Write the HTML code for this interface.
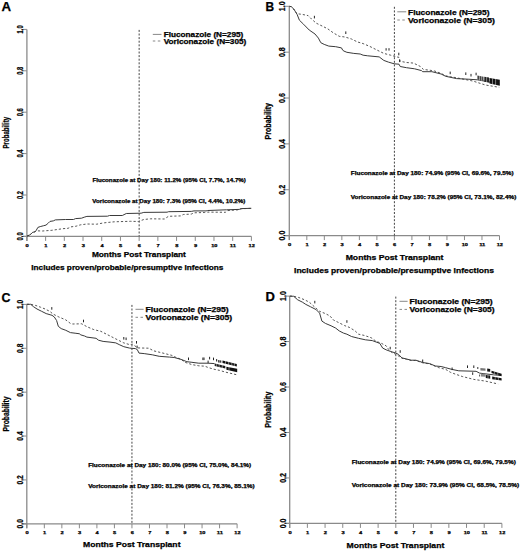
<!DOCTYPE html>
<html><head><meta charset="utf-8"><style>
html,body{margin:0;padding:0;background:#fff;}
svg{display:block;}
text{font-family:"Liberation Sans", sans-serif;font-weight:bold;fill:#000;stroke:#000;stroke-width:0.25;}
.ax{stroke:#8a8a8a;stroke-width:1.3;fill:none;}
.tk{stroke:#8a8a8a;stroke-width:1;fill:none;}
.vd{stroke:#444;stroke-width:1;stroke-dasharray:2 1.6;fill:none;}
.sol{stroke:#3a3a3a;stroke-width:1;fill:none;stroke-linejoin:round;}
.das{stroke:#555;stroke-width:1;stroke-dasharray:2.2 2;fill:none;}
.lg1{stroke:#888;stroke-width:1;}
.lg2{stroke:#888;stroke-width:1;stroke-dasharray:2.5 2.5;}
.cm{stroke:#222;stroke-width:1;}
.bl{fill:#111;stroke:#111;stroke-width:0.5;}
</style></head><body>
<svg width="520" height="551" viewBox="0 0 520 551">
<line class="ax" x1="26.9" y1="29.4" x2="26.9" y2="240.9"/>
<line class="ax" x1="22.9" y1="236.4" x2="251.4" y2="236.4"/>
<line class="tk" x1="26.90" y1="236.4" x2="26.90" y2="240.9"/>
<line class="tk" x1="45.61" y1="236.4" x2="45.61" y2="240.9"/>
<line class="tk" x1="64.32" y1="236.4" x2="64.32" y2="240.9"/>
<line class="tk" x1="83.03" y1="236.4" x2="83.03" y2="240.9"/>
<line class="tk" x1="101.73" y1="236.4" x2="101.73" y2="240.9"/>
<line class="tk" x1="120.44" y1="236.4" x2="120.44" y2="240.9"/>
<line class="tk" x1="139.15" y1="236.4" x2="139.15" y2="240.9"/>
<line class="tk" x1="157.86" y1="236.4" x2="157.86" y2="240.9"/>
<line class="tk" x1="176.57" y1="236.4" x2="176.57" y2="240.9"/>
<line class="tk" x1="195.28" y1="236.4" x2="195.28" y2="240.9"/>
<line class="tk" x1="213.98" y1="236.4" x2="213.98" y2="240.9"/>
<line class="tk" x1="232.69" y1="236.4" x2="232.69" y2="240.9"/>
<line class="tk" x1="251.40" y1="236.4" x2="251.40" y2="240.9"/>
<line class="tk" x1="22.9" y1="236.40" x2="26.9" y2="236.40"/>
<line class="tk" x1="22.9" y1="195.00" x2="26.9" y2="195.00"/>
<line class="tk" x1="22.9" y1="153.60" x2="26.9" y2="153.60"/>
<line class="tk" x1="22.9" y1="112.20" x2="26.9" y2="112.20"/>
<line class="tk" x1="22.9" y1="70.80" x2="26.9" y2="70.80"/>
<line class="tk" x1="22.9" y1="29.40" x2="26.9" y2="29.40"/>
<line class="vd" x1="139.15" y1="29.9" x2="139.15" y2="236.4"/>
<text x="27.20" y="246.80" font-size="4.4" text-anchor="middle" textLength="3.2" lengthAdjust="spacingAndGlyphs" stroke-width="0.45">0</text>
<text x="45.91" y="246.80" font-size="4.4" text-anchor="middle" textLength="3.2" lengthAdjust="spacingAndGlyphs" stroke-width="0.45">1</text>
<text x="64.62" y="246.80" font-size="4.4" text-anchor="middle" textLength="3.2" lengthAdjust="spacingAndGlyphs" stroke-width="0.45">2</text>
<text x="83.33" y="246.80" font-size="4.4" text-anchor="middle" textLength="3.2" lengthAdjust="spacingAndGlyphs" stroke-width="0.45">3</text>
<text x="102.03" y="246.80" font-size="4.4" text-anchor="middle" textLength="3.2" lengthAdjust="spacingAndGlyphs" stroke-width="0.45">4</text>
<text x="120.74" y="246.80" font-size="4.4" text-anchor="middle" textLength="3.2" lengthAdjust="spacingAndGlyphs" stroke-width="0.45">5</text>
<text x="139.45" y="246.80" font-size="4.4" text-anchor="middle" textLength="3.2" lengthAdjust="spacingAndGlyphs" stroke-width="0.45">6</text>
<text x="158.16" y="246.80" font-size="4.4" text-anchor="middle" textLength="3.2" lengthAdjust="spacingAndGlyphs" stroke-width="0.45">7</text>
<text x="176.87" y="246.80" font-size="4.4" text-anchor="middle" textLength="3.2" lengthAdjust="spacingAndGlyphs" stroke-width="0.45">8</text>
<text x="195.58" y="246.80" font-size="4.4" text-anchor="middle" textLength="3.2" lengthAdjust="spacingAndGlyphs" stroke-width="0.45">9</text>
<text x="214.28" y="246.80" font-size="4.4" text-anchor="middle" textLength="6.2" lengthAdjust="spacingAndGlyphs" stroke-width="0.45">10</text>
<text x="232.99" y="246.80" font-size="4.4" text-anchor="middle" textLength="6.2" lengthAdjust="spacingAndGlyphs" stroke-width="0.45">11</text>
<text x="251.70" y="246.80" font-size="4.4" text-anchor="middle" textLength="6.2" lengthAdjust="spacingAndGlyphs" stroke-width="0.45">12</text>
<text transform="translate(22.80,236.40) rotate(-90)" font-size="8.6" stroke-width="0.35" text-anchor="middle" textLength="8.0" lengthAdjust="spacingAndGlyphs">0.0</text>
<text transform="translate(22.80,195.00) rotate(-90)" font-size="8.6" stroke-width="0.35" text-anchor="middle" textLength="8.0" lengthAdjust="spacingAndGlyphs">0.2</text>
<text transform="translate(22.80,153.60) rotate(-90)" font-size="8.6" stroke-width="0.35" text-anchor="middle" textLength="8.0" lengthAdjust="spacingAndGlyphs">0.4</text>
<text transform="translate(22.80,112.20) rotate(-90)" font-size="8.6" stroke-width="0.35" text-anchor="middle" textLength="8.0" lengthAdjust="spacingAndGlyphs">0.6</text>
<text transform="translate(22.80,70.80) rotate(-90)" font-size="8.6" stroke-width="0.35" text-anchor="middle" textLength="8.0" lengthAdjust="spacingAndGlyphs">0.8</text>
<text transform="translate(22.80,29.40) rotate(-90)" font-size="8.6" stroke-width="0.35" text-anchor="middle" textLength="8.0" lengthAdjust="spacingAndGlyphs">1.0</text>
<line class="ax" x1="289.3" y1="6.3" x2="289.3" y2="240.1"/>
<line class="ax" x1="285.3" y1="235.6" x2="499.5" y2="235.6"/>
<line class="tk" x1="289.30" y1="235.6" x2="289.30" y2="240.1"/>
<line class="tk" x1="306.82" y1="235.6" x2="306.82" y2="240.1"/>
<line class="tk" x1="324.33" y1="235.6" x2="324.33" y2="240.1"/>
<line class="tk" x1="341.85" y1="235.6" x2="341.85" y2="240.1"/>
<line class="tk" x1="359.37" y1="235.6" x2="359.37" y2="240.1"/>
<line class="tk" x1="376.88" y1="235.6" x2="376.88" y2="240.1"/>
<line class="tk" x1="394.40" y1="235.6" x2="394.40" y2="240.1"/>
<line class="tk" x1="411.92" y1="235.6" x2="411.92" y2="240.1"/>
<line class="tk" x1="429.43" y1="235.6" x2="429.43" y2="240.1"/>
<line class="tk" x1="446.95" y1="235.6" x2="446.95" y2="240.1"/>
<line class="tk" x1="464.47" y1="235.6" x2="464.47" y2="240.1"/>
<line class="tk" x1="481.98" y1="235.6" x2="481.98" y2="240.1"/>
<line class="tk" x1="499.50" y1="235.6" x2="499.50" y2="240.1"/>
<line class="tk" x1="285.3" y1="235.60" x2="289.3" y2="235.60"/>
<line class="tk" x1="285.3" y1="189.74" x2="289.3" y2="189.74"/>
<line class="tk" x1="285.3" y1="143.88" x2="289.3" y2="143.88"/>
<line class="tk" x1="285.3" y1="98.02" x2="289.3" y2="98.02"/>
<line class="tk" x1="285.3" y1="52.16" x2="289.3" y2="52.16"/>
<line class="tk" x1="285.3" y1="6.30" x2="289.3" y2="6.30"/>
<line class="vd" x1="394.40" y1="6.8" x2="394.40" y2="235.6"/>
<text x="289.60" y="246.00" font-size="4.4" text-anchor="middle" textLength="3.2" lengthAdjust="spacingAndGlyphs" stroke-width="0.45">0</text>
<text x="307.12" y="246.00" font-size="4.4" text-anchor="middle" textLength="3.2" lengthAdjust="spacingAndGlyphs" stroke-width="0.45">1</text>
<text x="324.63" y="246.00" font-size="4.4" text-anchor="middle" textLength="3.2" lengthAdjust="spacingAndGlyphs" stroke-width="0.45">2</text>
<text x="342.15" y="246.00" font-size="4.4" text-anchor="middle" textLength="3.2" lengthAdjust="spacingAndGlyphs" stroke-width="0.45">3</text>
<text x="359.67" y="246.00" font-size="4.4" text-anchor="middle" textLength="3.2" lengthAdjust="spacingAndGlyphs" stroke-width="0.45">4</text>
<text x="377.18" y="246.00" font-size="4.4" text-anchor="middle" textLength="3.2" lengthAdjust="spacingAndGlyphs" stroke-width="0.45">5</text>
<text x="394.70" y="246.00" font-size="4.4" text-anchor="middle" textLength="3.2" lengthAdjust="spacingAndGlyphs" stroke-width="0.45">6</text>
<text x="412.22" y="246.00" font-size="4.4" text-anchor="middle" textLength="3.2" lengthAdjust="spacingAndGlyphs" stroke-width="0.45">7</text>
<text x="429.73" y="246.00" font-size="4.4" text-anchor="middle" textLength="3.2" lengthAdjust="spacingAndGlyphs" stroke-width="0.45">8</text>
<text x="447.25" y="246.00" font-size="4.4" text-anchor="middle" textLength="3.2" lengthAdjust="spacingAndGlyphs" stroke-width="0.45">9</text>
<text x="464.77" y="246.00" font-size="4.4" text-anchor="middle" textLength="6.2" lengthAdjust="spacingAndGlyphs" stroke-width="0.45">10</text>
<text x="482.28" y="246.00" font-size="4.4" text-anchor="middle" textLength="6.2" lengthAdjust="spacingAndGlyphs" stroke-width="0.45">11</text>
<text x="499.80" y="246.00" font-size="4.4" text-anchor="middle" textLength="6.2" lengthAdjust="spacingAndGlyphs" stroke-width="0.45">12</text>
<text transform="translate(285.20,235.60) rotate(-90)" font-size="8.6" stroke-width="0.35" text-anchor="middle" textLength="9.8" lengthAdjust="spacingAndGlyphs">0.0</text>
<text transform="translate(285.20,189.74) rotate(-90)" font-size="8.6" stroke-width="0.35" text-anchor="middle" textLength="9.8" lengthAdjust="spacingAndGlyphs">0.2</text>
<text transform="translate(285.20,143.88) rotate(-90)" font-size="8.6" stroke-width="0.35" text-anchor="middle" textLength="9.8" lengthAdjust="spacingAndGlyphs">0.4</text>
<text transform="translate(285.20,98.02) rotate(-90)" font-size="8.6" stroke-width="0.35" text-anchor="middle" textLength="9.8" lengthAdjust="spacingAndGlyphs">0.6</text>
<text transform="translate(285.20,52.16) rotate(-90)" font-size="8.6" stroke-width="0.35" text-anchor="middle" textLength="9.8" lengthAdjust="spacingAndGlyphs">0.8</text>
<text transform="translate(285.20,6.30) rotate(-90)" font-size="8.6" stroke-width="0.35" text-anchor="middle" textLength="9.8" lengthAdjust="spacingAndGlyphs">1.0</text>
<line class="ax" x1="26.8" y1="304.4" x2="26.8" y2="528.3"/>
<line class="ax" x1="22.8" y1="523.8" x2="237.1" y2="523.8"/>
<line class="tk" x1="26.80" y1="523.8" x2="26.80" y2="528.3"/>
<line class="tk" x1="44.33" y1="523.8" x2="44.33" y2="528.3"/>
<line class="tk" x1="61.85" y1="523.8" x2="61.85" y2="528.3"/>
<line class="tk" x1="79.38" y1="523.8" x2="79.38" y2="528.3"/>
<line class="tk" x1="96.90" y1="523.8" x2="96.90" y2="528.3"/>
<line class="tk" x1="114.42" y1="523.8" x2="114.42" y2="528.3"/>
<line class="tk" x1="131.95" y1="523.8" x2="131.95" y2="528.3"/>
<line class="tk" x1="149.47" y1="523.8" x2="149.47" y2="528.3"/>
<line class="tk" x1="167.00" y1="523.8" x2="167.00" y2="528.3"/>
<line class="tk" x1="184.53" y1="523.8" x2="184.53" y2="528.3"/>
<line class="tk" x1="202.05" y1="523.8" x2="202.05" y2="528.3"/>
<line class="tk" x1="219.57" y1="523.8" x2="219.57" y2="528.3"/>
<line class="tk" x1="237.10" y1="523.8" x2="237.10" y2="528.3"/>
<line class="tk" x1="22.8" y1="523.80" x2="26.8" y2="523.80"/>
<line class="tk" x1="22.8" y1="479.92" x2="26.8" y2="479.92"/>
<line class="tk" x1="22.8" y1="436.04" x2="26.8" y2="436.04"/>
<line class="tk" x1="22.8" y1="392.16" x2="26.8" y2="392.16"/>
<line class="tk" x1="22.8" y1="348.28" x2="26.8" y2="348.28"/>
<line class="tk" x1="22.8" y1="304.40" x2="26.8" y2="304.40"/>
<line class="vd" x1="131.95" y1="304.9" x2="131.95" y2="523.8"/>
<text x="27.10" y="534.20" font-size="4.4" text-anchor="middle" textLength="3.2" lengthAdjust="spacingAndGlyphs" stroke-width="0.45">0</text>
<text x="44.62" y="534.20" font-size="4.4" text-anchor="middle" textLength="3.2" lengthAdjust="spacingAndGlyphs" stroke-width="0.45">1</text>
<text x="62.15" y="534.20" font-size="4.4" text-anchor="middle" textLength="3.2" lengthAdjust="spacingAndGlyphs" stroke-width="0.45">2</text>
<text x="79.67" y="534.20" font-size="4.4" text-anchor="middle" textLength="3.2" lengthAdjust="spacingAndGlyphs" stroke-width="0.45">3</text>
<text x="97.20" y="534.20" font-size="4.4" text-anchor="middle" textLength="3.2" lengthAdjust="spacingAndGlyphs" stroke-width="0.45">4</text>
<text x="114.72" y="534.20" font-size="4.4" text-anchor="middle" textLength="3.2" lengthAdjust="spacingAndGlyphs" stroke-width="0.45">5</text>
<text x="132.25" y="534.20" font-size="4.4" text-anchor="middle" textLength="3.2" lengthAdjust="spacingAndGlyphs" stroke-width="0.45">6</text>
<text x="149.78" y="534.20" font-size="4.4" text-anchor="middle" textLength="3.2" lengthAdjust="spacingAndGlyphs" stroke-width="0.45">7</text>
<text x="167.30" y="534.20" font-size="4.4" text-anchor="middle" textLength="3.2" lengthAdjust="spacingAndGlyphs" stroke-width="0.45">8</text>
<text x="184.83" y="534.20" font-size="4.4" text-anchor="middle" textLength="3.2" lengthAdjust="spacingAndGlyphs" stroke-width="0.45">9</text>
<text x="202.35" y="534.20" font-size="4.4" text-anchor="middle" textLength="6.2" lengthAdjust="spacingAndGlyphs" stroke-width="0.45">10</text>
<text x="219.88" y="534.20" font-size="4.4" text-anchor="middle" textLength="6.2" lengthAdjust="spacingAndGlyphs" stroke-width="0.45">11</text>
<text x="237.40" y="534.20" font-size="4.4" text-anchor="middle" textLength="6.2" lengthAdjust="spacingAndGlyphs" stroke-width="0.45">12</text>
<text transform="translate(22.70,523.80) rotate(-90)" font-size="8.6" stroke-width="0.35" text-anchor="middle" textLength="9.3" lengthAdjust="spacingAndGlyphs">0.0</text>
<text transform="translate(22.70,479.92) rotate(-90)" font-size="8.6" stroke-width="0.35" text-anchor="middle" textLength="9.3" lengthAdjust="spacingAndGlyphs">0.2</text>
<text transform="translate(22.70,436.04) rotate(-90)" font-size="8.6" stroke-width="0.35" text-anchor="middle" textLength="9.3" lengthAdjust="spacingAndGlyphs">0.4</text>
<text transform="translate(22.70,392.16) rotate(-90)" font-size="8.6" stroke-width="0.35" text-anchor="middle" textLength="9.3" lengthAdjust="spacingAndGlyphs">0.6</text>
<text transform="translate(22.70,348.28) rotate(-90)" font-size="8.6" stroke-width="0.35" text-anchor="middle" textLength="9.3" lengthAdjust="spacingAndGlyphs">0.8</text>
<text transform="translate(22.70,304.40) rotate(-90)" font-size="8.6" stroke-width="0.35" text-anchor="middle" textLength="9.3" lengthAdjust="spacingAndGlyphs">1.0</text>
<line class="ax" x1="289.7" y1="296.1" x2="289.7" y2="527.9"/>
<line class="ax" x1="285.7" y1="523.4" x2="501.9" y2="523.4"/>
<line class="tk" x1="289.70" y1="523.4" x2="289.70" y2="527.9"/>
<line class="tk" x1="307.38" y1="523.4" x2="307.38" y2="527.9"/>
<line class="tk" x1="325.07" y1="523.4" x2="325.07" y2="527.9"/>
<line class="tk" x1="342.75" y1="523.4" x2="342.75" y2="527.9"/>
<line class="tk" x1="360.43" y1="523.4" x2="360.43" y2="527.9"/>
<line class="tk" x1="378.12" y1="523.4" x2="378.12" y2="527.9"/>
<line class="tk" x1="395.80" y1="523.4" x2="395.80" y2="527.9"/>
<line class="tk" x1="413.48" y1="523.4" x2="413.48" y2="527.9"/>
<line class="tk" x1="431.17" y1="523.4" x2="431.17" y2="527.9"/>
<line class="tk" x1="448.85" y1="523.4" x2="448.85" y2="527.9"/>
<line class="tk" x1="466.53" y1="523.4" x2="466.53" y2="527.9"/>
<line class="tk" x1="484.22" y1="523.4" x2="484.22" y2="527.9"/>
<line class="tk" x1="501.90" y1="523.4" x2="501.90" y2="527.9"/>
<line class="tk" x1="285.7" y1="523.40" x2="289.7" y2="523.40"/>
<line class="tk" x1="285.7" y1="477.94" x2="289.7" y2="477.94"/>
<line class="tk" x1="285.7" y1="432.48" x2="289.7" y2="432.48"/>
<line class="tk" x1="285.7" y1="387.02" x2="289.7" y2="387.02"/>
<line class="tk" x1="285.7" y1="341.56" x2="289.7" y2="341.56"/>
<line class="tk" x1="285.7" y1="296.10" x2="289.7" y2="296.10"/>
<line class="vd" x1="395.80" y1="296.6" x2="395.80" y2="523.4"/>
<text x="290.00" y="533.80" font-size="4.4" text-anchor="middle" textLength="3.2" lengthAdjust="spacingAndGlyphs" stroke-width="0.45">0</text>
<text x="307.68" y="533.80" font-size="4.4" text-anchor="middle" textLength="3.2" lengthAdjust="spacingAndGlyphs" stroke-width="0.45">1</text>
<text x="325.37" y="533.80" font-size="4.4" text-anchor="middle" textLength="3.2" lengthAdjust="spacingAndGlyphs" stroke-width="0.45">2</text>
<text x="343.05" y="533.80" font-size="4.4" text-anchor="middle" textLength="3.2" lengthAdjust="spacingAndGlyphs" stroke-width="0.45">3</text>
<text x="360.73" y="533.80" font-size="4.4" text-anchor="middle" textLength="3.2" lengthAdjust="spacingAndGlyphs" stroke-width="0.45">4</text>
<text x="378.42" y="533.80" font-size="4.4" text-anchor="middle" textLength="3.2" lengthAdjust="spacingAndGlyphs" stroke-width="0.45">5</text>
<text x="396.10" y="533.80" font-size="4.4" text-anchor="middle" textLength="3.2" lengthAdjust="spacingAndGlyphs" stroke-width="0.45">6</text>
<text x="413.78" y="533.80" font-size="4.4" text-anchor="middle" textLength="3.2" lengthAdjust="spacingAndGlyphs" stroke-width="0.45">7</text>
<text x="431.47" y="533.80" font-size="4.4" text-anchor="middle" textLength="3.2" lengthAdjust="spacingAndGlyphs" stroke-width="0.45">8</text>
<text x="449.15" y="533.80" font-size="4.4" text-anchor="middle" textLength="3.2" lengthAdjust="spacingAndGlyphs" stroke-width="0.45">9</text>
<text x="466.83" y="533.80" font-size="4.4" text-anchor="middle" textLength="6.2" lengthAdjust="spacingAndGlyphs" stroke-width="0.45">10</text>
<text x="484.52" y="533.80" font-size="4.4" text-anchor="middle" textLength="6.2" lengthAdjust="spacingAndGlyphs" stroke-width="0.45">11</text>
<text x="502.20" y="533.80" font-size="4.4" text-anchor="middle" textLength="6.2" lengthAdjust="spacingAndGlyphs" stroke-width="0.45">12</text>
<text transform="translate(285.60,523.40) rotate(-90)" font-size="8.6" stroke-width="0.35" text-anchor="middle" textLength="9.8" lengthAdjust="spacingAndGlyphs">0.0</text>
<text transform="translate(285.60,477.94) rotate(-90)" font-size="8.6" stroke-width="0.35" text-anchor="middle" textLength="9.8" lengthAdjust="spacingAndGlyphs">0.2</text>
<text transform="translate(285.60,432.48) rotate(-90)" font-size="8.6" stroke-width="0.35" text-anchor="middle" textLength="9.8" lengthAdjust="spacingAndGlyphs">0.4</text>
<text transform="translate(285.60,387.02) rotate(-90)" font-size="8.6" stroke-width="0.35" text-anchor="middle" textLength="9.8" lengthAdjust="spacingAndGlyphs">0.6</text>
<text transform="translate(285.60,341.56) rotate(-90)" font-size="8.6" stroke-width="0.35" text-anchor="middle" textLength="9.8" lengthAdjust="spacingAndGlyphs">0.8</text>
<text transform="translate(285.60,296.10) rotate(-90)" font-size="8.6" stroke-width="0.35" text-anchor="middle" textLength="9.8" lengthAdjust="spacingAndGlyphs">1.0</text>
<text x="1.50" y="11.00" font-size="12.5" text-anchor="start" textLength="9.6" lengthAdjust="spacingAndGlyphs">A</text>
<text x="265.60" y="11.20" font-size="12.5" text-anchor="start" textLength="8.6" lengthAdjust="spacingAndGlyphs">B</text>
<text x="1.60" y="301.90" font-size="12.5" text-anchor="start" textLength="9.0" lengthAdjust="spacingAndGlyphs">C</text>
<text x="265.40" y="300.80" font-size="12.5" text-anchor="start" textLength="9.4" lengthAdjust="spacingAndGlyphs">D</text>
<text transform="translate(9.2,132.7) rotate(-90)" font-size="8.2" text-anchor="middle" textLength="31.5" lengthAdjust="spacingAndGlyphs">Probability</text>
<text transform="translate(271.2,121.2) rotate(-90)" font-size="8.2" text-anchor="middle" textLength="36.5" lengthAdjust="spacingAndGlyphs">Probability</text>
<text transform="translate(8.5,414.0) rotate(-90)" font-size="8.2" text-anchor="middle" textLength="35" lengthAdjust="spacingAndGlyphs">Probability</text>
<text transform="translate(271.2,409.7) rotate(-90)" font-size="8.2" text-anchor="middle" textLength="36" lengthAdjust="spacingAndGlyphs">Probability</text>
<text x="91.90" y="257.00" font-size="7.2" text-anchor="start" textLength="94.0" lengthAdjust="spacingAndGlyphs">Months Post Transplant</text>
<text x="345.70" y="259.50" font-size="7.2" text-anchor="start" textLength="97.8" lengthAdjust="spacingAndGlyphs">Months Post Transplant</text>
<text x="83.00" y="546.60" font-size="7.2" text-anchor="start" textLength="97.5" lengthAdjust="spacingAndGlyphs">Months Post Transplant</text>
<text x="346.60" y="547.50" font-size="7.2" text-anchor="start" textLength="97.7" lengthAdjust="spacingAndGlyphs">Months Post Transplant</text>
<text x="31.30" y="269.60" font-size="7.2" text-anchor="start" textLength="192.0" lengthAdjust="spacingAndGlyphs">Includes proven/probable/presumptive infections</text>
<text x="294.00" y="273.40" font-size="7.2" text-anchor="start" textLength="200.0" lengthAdjust="spacingAndGlyphs">Includes proven/probable/presumptive infections</text>
<line class="lg1" x1="152.8" y1="34.4" x2="161.5" y2="34.4"/>
<line class="lg2" x1="152.8" y1="41.0" x2="161.5" y2="41.0"/>
<text x="163.70" y="36.70" font-size="6.6" text-anchor="start" textLength="79.6" lengthAdjust="spacingAndGlyphs">Fluconazole (N=295)</text>
<text x="163.70" y="43.80" font-size="6.6" text-anchor="start" textLength="82.6" lengthAdjust="spacingAndGlyphs">Voriconazole (N=305)</text>
<line class="lg1" x1="397.3" y1="11.8" x2="406.3" y2="11.8"/>
<line class="lg2" x1="397.3" y1="20.0" x2="406.3" y2="20.0"/>
<text x="408.00" y="14.50" font-size="6.6" text-anchor="start" textLength="81.5" lengthAdjust="spacingAndGlyphs">Fluconazole (N=295)</text>
<text x="408.00" y="22.70" font-size="6.6" text-anchor="start" textLength="86.8" lengthAdjust="spacingAndGlyphs">Voriconazole (N=305)</text>
<line class="lg1" x1="135.5" y1="309.3" x2="143.6" y2="309.3"/>
<line class="lg2" x1="135.5" y1="317.3" x2="143.6" y2="317.3"/>
<text x="145.60" y="312.10" font-size="6.6" text-anchor="start" textLength="83.0" lengthAdjust="spacingAndGlyphs">Fluconazole (N=295)</text>
<text x="145.60" y="320.10" font-size="6.6" text-anchor="start" textLength="86.6" lengthAdjust="spacingAndGlyphs">Voriconazole (N=305)</text>
<line class="lg1" x1="399.5" y1="301.3" x2="407.6" y2="301.3"/>
<line class="lg2" x1="399.5" y1="309.4" x2="407.6" y2="309.4"/>
<text x="409.60" y="304.20" font-size="6.6" text-anchor="start" textLength="83.0" lengthAdjust="spacingAndGlyphs">Fluconazole (N=295)</text>
<text x="409.60" y="312.30" font-size="6.6" text-anchor="start" textLength="85.0" lengthAdjust="spacingAndGlyphs">Voriconazole (N=305)</text>
<text x="92.40" y="182.10" font-size="5.3" text-anchor="start" textLength="153.5" lengthAdjust="spacingAndGlyphs">Fluconazole at Day 180: 11.2% (95% CI, 7.7%, 14.7%)</text>
<text x="92.30" y="202.70" font-size="5.3" text-anchor="start" textLength="153.1" lengthAdjust="spacingAndGlyphs">Voriconazole at Day 180: 7.3% (95% CI, 4.4%, 10.2%)</text>
<text x="350.80" y="175.40" font-size="5.3" text-anchor="start" textLength="162.8" lengthAdjust="spacingAndGlyphs">Fluconazole at Day 180: 74.9% (95% CI, 69.6%, 79.5%)</text>
<text x="350.80" y="198.50" font-size="5.3" text-anchor="start" textLength="165.5" lengthAdjust="spacingAndGlyphs">Voriconazole at Day 180: 78.2% (95% CI, 73.1%, 82.4%)</text>
<text x="88.20" y="466.50" font-size="5.3" text-anchor="start" textLength="163.0" lengthAdjust="spacingAndGlyphs">Fluconazole at Day 180: 80.0% (95% CI, 75.0%, 84.1%)</text>
<text x="88.20" y="488.20" font-size="5.3" text-anchor="start" textLength="166.5" lengthAdjust="spacingAndGlyphs">Voriconazole at Day 180: 81.2% (95% CI, 76.3%, 85.1%)</text>
<text x="351.70" y="463.80" font-size="5.3" text-anchor="start" textLength="164.1" lengthAdjust="spacingAndGlyphs">Fluconazole at Day 180: 74.9% (95% CI, 69.6%, 79.5%)</text>
<text x="351.70" y="486.50" font-size="5.3" text-anchor="start" textLength="167.6" lengthAdjust="spacingAndGlyphs">Voriconazole at Day 180: 73.9% (95% CI, 68.5%, 78.5%)</text>
<polyline class="das" points="27.0,236.1 29.8,234.9 31.5,233.5 32.7,232.3 35.0,231.8 36.1,230.8 42.5,231.0 51.9,230.3 62.7,228.7 68.1,228.3 70.8,226.9 76.1,226.2 80.2,224.9 86.9,224.0 96.7,224.2 103.5,222.9 114.2,221.8 130.4,221.3 138.5,221.5 143.8,219.5 150.6,218.8 164.4,219.0 168.5,216.3 180.6,215.9 183.3,214.5 191.3,214.1 194.0,212.8 204.8,212.5 207.5,212.1 225.4,212.3 227.7,210.6 238.0,209.8 240.4,208.8 251.3,208.3"/>
<polyline class="sol" points="27.0,236.1 29.8,234.9 31.5,233.5 32.7,232.3 35.0,231.8 36.1,230.6 37.9,227.4 40.2,226.6 43.7,225.7 46.0,225.1 48.3,223.1 50.0,221.4 53.3,220.9 55.3,219.9 65.4,219.5 73.5,219.5 75.5,218.6 81.5,218.2 84.2,217.2 86.9,216.4 107.5,216.2 109.5,215.5 122.3,215.5 126.3,213.5 141.1,213.2 143.8,212.4 167.1,212.2 168.5,211.7 191.3,211.4 194.0,210.9 206.1,210.9 207.5,210.5 226.5,209.8 239.2,209.4 241.5,208.6 251.3,208.3"/>
<polyline class="das" points="289.4,6.3 291.3,6.7 293.7,9.0 295.4,12.1 297.7,13.8 302.3,14.4 308.1,15.6 311.5,19.0 316.1,23.1 323.1,26.5 327.7,28.8 333.4,32.9 339.2,36.3 345.0,37.0 351.5,39.0 357.3,41.9 363.1,43.6 370.0,46.5 376.9,50.0 383.8,53.4 390.7,55.2 396.5,56.9 399.0,57.3 400.2,61.3 406.5,62.5 413.5,63.1 420.4,66.5 423.3,69.4 429.6,70.2 434.2,70.9 441.1,73.4 445.7,75.8 450.4,76.7 455.0,77.5 472.7,81.0 485.4,85.0 499.2,87.3"/>
<polyline class="sol" points="289.4,6.3 291.3,6.7 293.7,9.0 295.4,11.5 297.1,14.4 299.4,20.2 303.5,24.2 309.2,30.0 315.0,34.0 318.4,38.1 320.8,42.7 324.2,44.4 328.8,46.1 335.7,46.7 341.5,47.9 342.7,50.2 344.0,51.1 346.9,52.3 353.8,53.4 360.2,54.0 363.1,55.2 367.7,55.8 379.2,56.9 383.8,60.4 388.4,62.1 394.2,63.8 399.0,64.2 400.2,66.5 406.5,67.7 414.6,68.8 421.5,70.6 422.7,71.7 431.9,71.7 441.1,74.0 445.7,76.3 456.5,78.6 468.1,79.2 477.3,79.8 499.2,83.8"/>
<polyline class="das" points="26.8,304.3 30.7,304.3 35.8,305.5 40.5,307.2 45.1,309.0 49.7,311.3 53.1,314.1 58.9,317.0 65.8,319.9 70.4,323.4 72.7,324.0 81.7,323.8 86.9,326.7 93.8,329.6 100.8,331.3 107.7,334.8 114.6,338.3 119.2,340.6 123.8,342.9 129.6,344.6 132.5,344.2 136.5,347.0 137.3,347.9 148.8,348.2 153.5,350.8 158.1,351.9 165.0,353.6 171.9,355.4 175.4,357.1 181.1,359.4 185.0,362.3 191.9,364.6 198.8,365.8 205.0,366.2 208.1,367.5 213.8,369.2 219.6,370.4 225.4,372.1 236.5,374.7"/>
<polyline class="sol" points="26.8,304.3 30.7,304.3 33.5,306.7 37.0,309.0 41.6,311.3 46.2,313.6 52.0,315.3 54.3,317.0 56.6,320.5 58.3,326.3 61.2,328.6 65.8,330.3 70.4,332.6 75.1,333.2 79.7,333.8 80.5,334.8 84.6,336.0 86.9,337.1 96.1,338.3 98.5,340.2 103.1,341.4 110.0,342.1 115.8,342.9 119.2,344.6 123.8,346.7 129.6,348.1 135.4,348.6 137.3,349.6 139.0,353.1 144.2,353.6 152.3,354.8 159.2,356.3 169.6,357.1 174.2,357.5 181.1,359.4 186.9,361.7 191.9,362.3 198.8,363.2 208.1,363.2 214.5,363.6"/>
<polyline class="das" points="289.8,296.1 293.7,296.3 298.8,297.5 304.6,299.8 309.2,302.1 315.0,307.3 319.6,311.3 325.4,313.6 330.0,316.0 333.4,320.0 338.1,322.3 344.6,325.6 349.2,327.3 355.0,330.8 358.5,334.2 364.2,335.4 371.1,337.7 375.8,341.1 381.5,343.4 386.1,345.8 388.4,349.2 391.9,352.5 396.5,354.6 401.9,358.2 406.5,359.3 411.1,360.5 415.8,360.5 422.7,362.8 429.6,363.9 435.4,366.3 438.8,367.7 445.7,369.4 450.4,372.3 455.0,374.0 462.3,376.5 473.8,379.4 485.4,381.1 498.1,384.0"/>
<polyline class="sol" points="289.8,296.1 293.7,296.3 297.7,299.8 302.3,302.1 305.8,304.4 310.4,306.7 316.1,309.6 319.6,313.1 321.9,321.1 325.4,323.4 331.1,325.8 335.7,328.1 339.2,330.9 343.5,333.1 346.9,334.2 351.5,336.5 358.5,338.3 365.4,339.8 372.3,340.6 376.9,342.3 379.8,343.4 382.7,348.1 386.1,349.8 390.7,351.5 395.4,352.9 398.5,354.4 401.9,357.9 406.5,359.0 411.1,360.2 415.8,360.2 419.2,361.3 422.7,362.5 429.6,363.6 435.4,366.0 441.1,366.5 445.7,367.7 451.9,369.4 458.8,370.8 476.1,371.3 479.6,373.1 483.1,373.6 493.4,374.8 501.0,375.5"/>
<line class="cm" x1="314.4" y1="15.8" x2="314.4" y2="18.4"/>
<line class="cm" x1="345.8" y1="31.4" x2="345.8" y2="34"/>
<line class="cm" x1="386.1" y1="48.2" x2="386.1" y2="50.6"/>
<line class="cm" x1="389" y1="48.2" x2="389" y2="50.6"/>
<line class="cm" x1="398.8" y1="52.7" x2="398.8" y2="55.3"/>
<line class="cm" x1="399.6" y1="59.5" x2="399.6" y2="62.1"/>
<line class="cm" x1="450.2" y1="71.6" x2="450.2" y2="74.2"/>
<line class="cm" x1="465.8" y1="72.4" x2="465.8" y2="75"/>
<line class="cm" x1="471" y1="73.9" x2="471" y2="76.5"/>
<line class="cm" x1="476.1" y1="72.7" x2="476.1" y2="75.3"/>
<line class="cm" x1="51.8" y1="307.1" x2="51.8" y2="309.7"/>
<line class="cm" x1="83.5" y1="319.7" x2="83.5" y2="322.3"/>
<line class="cm" x1="123.8" y1="337" x2="123.8" y2="339.6"/>
<line class="cm" x1="126.1" y1="337.5" x2="126.1" y2="340.1"/>
<line class="cm" x1="136.5" y1="341" x2="136.5" y2="343.6"/>
<line class="cm" x1="137.1" y1="345.6" x2="137.1" y2="348.2"/>
<line class="cm" x1="188.5" y1="357.5" x2="188.5" y2="360.1"/>
<line class="cm" x1="202.9" y1="357.5" x2="202.9" y2="360.1"/>
<line class="cm" x1="204" y1="357.5" x2="204" y2="360.1"/>
<line class="cm" x1="208.1" y1="360.6" x2="208.1" y2="363.2"/>
<line class="cm" x1="209.6" y1="356.8" x2="209.6" y2="359.4"/>
<line class="cm" x1="213.5" y1="357.6" x2="213.5" y2="360.2"/>
<line class="cm" x1="314.8" y1="300.8" x2="314.8" y2="303.4"/>
<line class="cm" x1="346.9" y1="320.2" x2="346.9" y2="322.8"/>
<line class="cm" x1="390.2" y1="346.8" x2="390.2" y2="349.4"/>
<line class="cm" x1="400.2" y1="350.2" x2="400.2" y2="352.8"/>
<line class="cm" x1="422.7" y1="359.5" x2="422.7" y2="362.1"/>
<line class="cm" x1="452.1" y1="367.5" x2="452.1" y2="370.1"/>
<line class="cm" x1="467.5" y1="365.4" x2="467.5" y2="368"/>
<line class="cm" x1="473.8" y1="365.4" x2="473.8" y2="368"/>
<line class="cm" x1="472.7" y1="372.3" x2="472.7" y2="374.9"/>
<polygon points="477.40,75.40 483.50,76.80 483.50,80.80 477.40,79.50" fill="#444"/>
<line x1="479.50" y1="75.58" x2="479.50" y2="80.25" stroke="#fff" stroke-width="0.45"/>
<line x1="481.60" y1="76.06" x2="481.60" y2="80.70" stroke="#fff" stroke-width="0.45"/>
<polygon points="484.30,76.70 489.00,77.50 489.00,82.60 484.30,81.80" fill="#222"/>
<line x1="486.60" y1="76.79" x2="486.60" y2="82.49" stroke="#fff" stroke-width="0.45"/>
<polygon points="489.50,78.10 499.80,79.80 499.80,85.80 489.50,83.50" fill="#111"/>
<line x1="492.50" y1="78.30" x2="492.50" y2="84.47" stroke="#fff" stroke-width="0.45"/>
<line x1="495.60" y1="78.81" x2="495.60" y2="85.16" stroke="#fff" stroke-width="0.45"/>
<polygon points="216.00,359.10 217.20,359.30 217.20,361.60 216.00,361.40" fill="#333"/>
<polygon points="218.10,360.10 221.30,360.40 221.30,362.70 218.10,362.40" fill="#333"/>
<line x1="219.70" y1="359.95" x2="219.70" y2="362.85" stroke="#fff" stroke-width="0.45"/>
<polygon points="222.50,360.40 236.80,364.10 236.80,366.60 222.50,363.10" fill="#111"/>
<line x1="225.50" y1="360.88" x2="225.50" y2="364.13" stroke="#fff" stroke-width="0.45"/>
<line x1="228.60" y1="361.68" x2="228.60" y2="364.89" stroke="#fff" stroke-width="0.45"/>
<line x1="231.80" y1="362.51" x2="231.80" y2="365.68" stroke="#fff" stroke-width="0.45"/>
<line x1="234.40" y1="363.18" x2="234.40" y2="366.31" stroke="#fff" stroke-width="0.45"/>
<polygon points="214.70,363.50 225.30,366.10 225.30,368.60 214.70,366.10" fill="#1a1a1a"/>
<line x1="216.40" y1="363.62" x2="216.40" y2="366.80" stroke="#fff" stroke-width="0.45"/>
<line x1="219.20" y1="364.30" x2="219.20" y2="367.46" stroke="#fff" stroke-width="0.45"/>
<line x1="222.30" y1="365.06" x2="222.30" y2="368.19" stroke="#fff" stroke-width="0.45"/>
<polygon points="226.40,366.80 237.20,368.80 237.20,372.30 226.40,369.80" fill="#111"/>
<line x1="229.00" y1="366.98" x2="229.00" y2="370.70" stroke="#fff" stroke-width="0.45"/>
<polygon points="477.30,367.10 478.30,367.10 478.30,369.10 477.30,369.10" fill="#333"/>
<polygon points="480.40,368.10 485.50,368.50 485.50,370.80 480.40,370.40" fill="#777"/>
<polygon points="487.20,368.40 490.20,369.00 490.20,371.80 487.20,371.40" fill="#111"/>
<polygon points="491.50,370.80 501.60,373.80 501.60,376.20 491.50,373.10" fill="#111"/>
<line x1="494.60" y1="371.42" x2="494.60" y2="374.35" stroke="#fff" stroke-width="0.45"/>
<line x1="497.80" y1="372.37" x2="497.80" y2="375.33" stroke="#fff" stroke-width="0.45"/>
<polygon points="479.20,374.50 480.00,374.50 480.00,376.50 479.20,376.50" fill="#333"/>
<polygon points="480.80,373.50 485.50,374.20 485.50,376.80 480.80,376.50" fill="#888"/>
<polygon points="485.80,375.10 490.20,375.60 490.20,378.80 485.80,378.00" fill="#111"/>
<line x1="488.00" y1="375.05" x2="488.00" y2="378.70" stroke="#fff" stroke-width="0.45"/>
<polygon points="492.20,376.50 501.60,378.30 501.60,380.50 492.20,379.20" fill="#111"/>
<line x1="495.20" y1="376.77" x2="495.20" y2="379.91" stroke="#fff" stroke-width="0.45"/>
<line x1="498.40" y1="377.39" x2="498.40" y2="380.36" stroke="#fff" stroke-width="0.45"/>
</svg>
</body></html>
